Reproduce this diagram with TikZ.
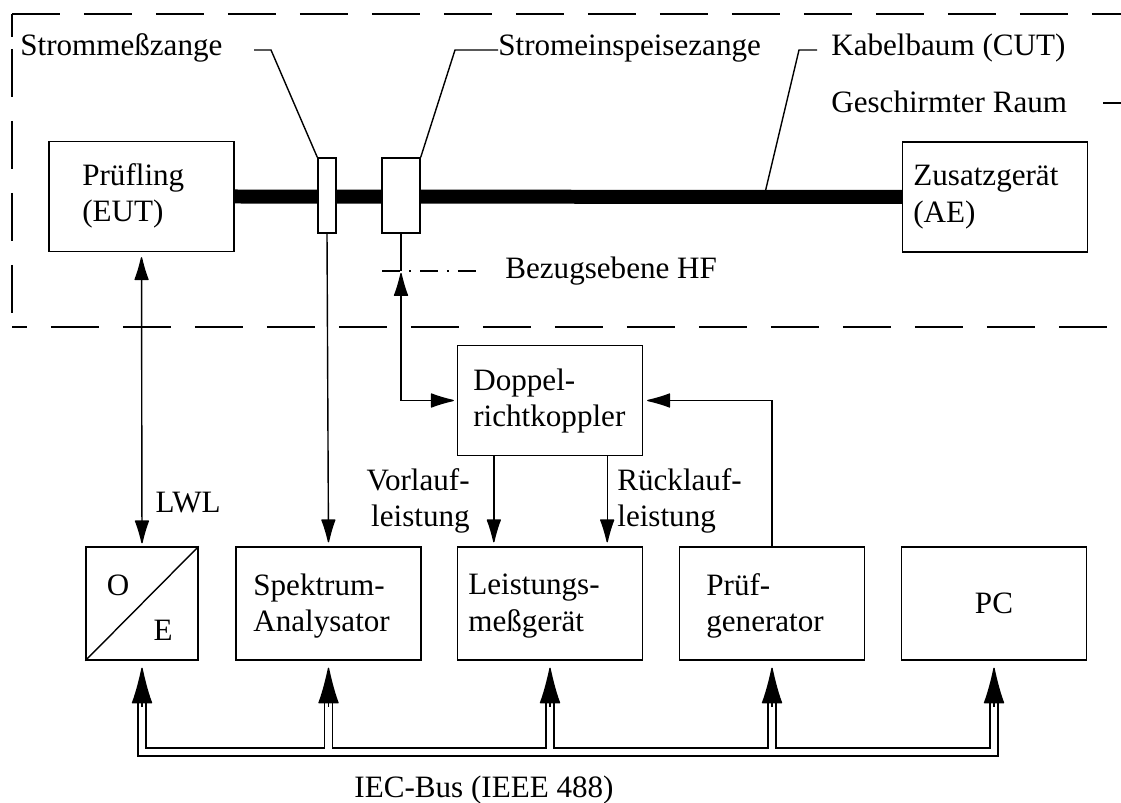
\documentclass[tikz,border=0pt]{standalone}
\usepackage{fontspec}
\setmainfont{Liberation Serif}
\usetikzlibrary{arrows.meta}
\usetikzlibrary{calc}

\tikzset{
  every node/.append style={font=\fontsize{17.7}{20.8}\selectfont},
  >={Latex[round, length=0.52cm, width=0.3cm]},
  unit/.style={draw, line width=0.8pt, minimum width=3.7cm, minimum height=2.2cm, inner sep=0pt},
  clampbox/.style={draw, fill=white, line width=0.8pt, minimum height=1.5cm, inner sep=0pt},
  txt/.style={inner sep=0pt, align=left},
  wire/.style={line width=0.8pt},
  sig/.style={wire, ->, shorten >=0.08cm},
  bisig/.style={wire, <->, shorten >=0.06cm, shorten <=0.1cm},
  frame/.style={line width=0.8pt, dash pattern=on 0.97cm off 0.47cm},
  refplane/.style={line width=0.8pt, dash pattern=on 0.36cm off 0.18cm on 0.04cm off 0.18cm},
  cable/.style={line width=0.28cm},
  bus/.style={line width=0.186cm, line join=miter, postaction={draw, white, line width=0.134cm}},
  bustip/.style={line width=0.8pt, -{Latex[round, length=0.78cm, width=0.42cm]}, shorten >=0.14cm},
}

\begin{document}
\begin{tikzpicture}[x=0.02cm, y=-0.02cm]
            \useasboundingbox (0,0) rectangle (1121,803);

            % Shielded room
            \draw[frame] (12,14) -- (1121,14);
            \draw[wire] (12,14) -- (12,37);
            \draw[frame, dash phase=1.2cm] (12,37) -- (12,327);
            \draw[frame, dash phase=0.66cm] (12,327) -- (1121,327);

            % Devices in the room
            \node[unit] (eut) at (141.5,196.5) {};
            \node[txt, anchor=west] (eut-txt) at (82,196) {Prüfling\\(EUT)};
            \node[unit] (ae) at (995,197) {};
            \node[txt, anchor=west] (ae-txt) at (913,197) {Zusatzgerät\\(AE)};

            % Cable harness and clamps
            \draw[cable] (eut.east) -- (ae.west);
            \node[clampbox, minimum width=0.36cm] (clamp1) at (327,195.5) {};
            \node[clampbox, minimum width=0.76cm] (clamp2) at (401,195.5) {};

            % Callouts
            \node[txt, anchor=base west] (smz) at (20,56) {Strommeßzange};
            \node[txt, anchor=base west] (sez) at (498,56) {Stromeinspeisezange};
            \node[txt, anchor=base west] (cut) at (831,56) {Kabelbaum (CUT)};
            \node[txt, anchor=base west] (room) at (831,113) {Geschirmter Raum};
            \coordinate (smz-end) at (254,50);
            \coordinate (cut-foot) at (764,197);
            \draw[wire] (clamp1.north west) -- (271,50) -- (smz-end);
            \draw[wire] (clamp2.north east) -- (455,50) -- (sez.west |- 0,50);
            \draw[wire] (cut-foot) -- (799,50) -- (817,50);
            \draw[wire] (1103,103) -- (1121,103);

            % Reference plane
            \coordinate (bez) at (401,271);
            \node[txt, anchor=west] (bez-txt) at (505,271) {Bezugsebene HF};
            \draw[refplane] ([xshift=-0.38cm]bez) -- ([xshift=-0.56cm]bez-txt.west);

            % Coupler
            \node[unit] (dc) at (550,400.5) {};
            \node[txt, anchor=west] (dc-txt) at (473,401) {Doppel-\\richtkoppler};

            % Instruments
            \node[unit, minimum width=2.24cm, minimum height=2.26cm] (oe) at (142,603.5) {};
            \draw[wire] (oe.south west) -- (oe.north east);
            \node[inner sep=0pt] (oe-o) at (118,585) {O};
            \node[inner sep=0pt] (oe-e) at (163,630) {E};
            \node[unit, minimum height=2.26cm] (spec) at (328.5,603.5) {};
            \node[txt, anchor=west] (spec-txt) at (253,606) {Spektrum-\\Analysator};
            \node[unit, minimum height=2.26cm] (pm) at (550,603.5) {};
            \node[txt, anchor=west] (pm-txt) at (468,606) {Leistungs-\\meßgerät};
            \node[unit, minimum height=2.26cm] (gen) at (772,603.5) {};
            \node[txt, anchor=west] (gen-txt) at (706,606) {Prüf-\\generator};
            \node[unit, minimum height=2.26cm] (pc) at (994,603.5) {PC};

            % Signal paths
            \draw[bisig] (eut.south) -- (oe.north) node[pos=0.85, right=0.26cm, inner sep=0pt] (lwl) {LWL};
            \draw[sig] (clamp1.south) -- (spec.north);
            \draw[wire] (clamp2.south) -- (bez);
            \draw[bisig, shorten <=0.04cm] (bez) |- (dc.west);
            \draw[sig] (gen.north) |- (dc.east);
            \draw[sig] ([xshift=0.74cm]dc.south west) -- ([xshift=0.74cm]pm.north west);
            \draw[sig] ([xshift=-0.72cm]dc.south east) -- ([xshift=-0.72cm]pm.north east);
            \node[txt, anchor=east, align=right] (fwd) at (470,501) {Vorlauf-\\leistung};
            \node[txt, anchor=west] (rev) at (617,501) {Rücklauf-\\leistung};

            % IEC bus
            \coordinate (busline) at (0,752);
            \coordinate (busshaft) at (0,700);
            \coordinate (bustop) at (0,707);
            \draw[bus] (oe.south |- busshaft) -- (oe.south |- busline) -- (pc.south |- busline) -- (pc.south |- busshaft)
              \foreach \n in {spec,pm,gen} {(\n.south |- busline) -- (\n.south |- busshaft)};
            \foreach \n in {oe,spec,pm,gen,pc}
              \draw[bustip] (\n.south |- bustop) -- (\n.south);
            \node[inner sep=0pt, anchor=base] (bus-txt) at (484,797) {IEC-Bus (IEEE 488)};

        \end{tikzpicture}
\end{document}
